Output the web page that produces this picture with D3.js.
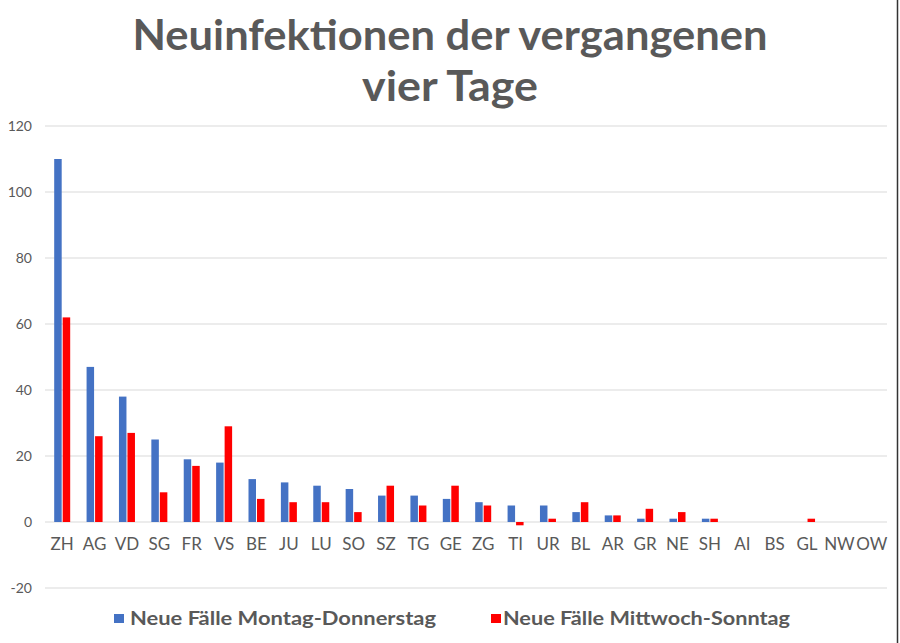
<!DOCTYPE html>
<html><head><meta charset="utf-8">
<script src="https://cdn.jsdelivr.net/npm/d3@7"></script>
<style>body{margin:0;background:#fff}svg{display:block}text{font-family:Lato,"Open Sans",sans-serif}</style>
</head><body>
<script>
const categories = ["ZH","AG","VD","SG","FR","VS","BE","JU","LU","SO","SZ","TG","GE","ZG","TI","UR","BL","AR","GR","NE","SH","AI","BS","GL","NW","OW"];
const seriesNames = ["Neue Fälle Montag-Donnerstag","Neue Fälle Mittwoch-Sonntag"];
const montagDonnerstag = [110,47,38,25,19,18,13,12,11,10,8,8,7,6,5,5,3,2,1,1,1,0,0,0,0,0];
const mittwochSonntag  = [62,26,27,9,17,29,7,6,6,3,11,5,11,5,-1,1,6,2,4,3,1,0,0,1,0,0];
const yTicks = [-20,0,20,40,60,80,100,120];
const colors = ["#4472C4","#FF0000"];
const titleLines = ["Neuinfektionen der vergangenen","vier Tage"];

const W=900,H=643;
const svg=d3.select("body").append("svg").attr("width",W).attr("height",H);
svg.append("rect").attr("width",W).attr("height",H).attr("fill","#fff");

const x=d3.scaleBand().domain(categories).range([46,888]).paddingInner(0).paddingOuter(0);
const y=d3.scaleLinear().domain([-20,120]).range([588,126]);

// grid
svg.append("g").selectAll("line").data(yTicks).join("line")
  .attr("x1",45).attr("x2",887).attr("y1",d=>y(d)).attr("y2",d=>y(d))
  .attr("stroke","#d9d9d9").attr("stroke-width",1);

// y labels
svg.append("g").selectAll("text").data(yTicks).join("text")
  .attr("x",32).attr("y",d=>y(d)).attr("dy","0.35em").attr("text-anchor","end")
  .attr("font-size",14).attr("fill","#595959").text(d=>d);

const bw=7.5;
const data=categories.map((c,i)=>({c,v:[montagDonnerstag[i],mittwochSonntag[i]]}));
[0,1].forEach(s=>{
  svg.append("g").selectAll("rect").data(data).join("rect")
    .attr("x",d=>x(d.c)+x.bandwidth()/2+(s===0?-bw-0.5:0.5))
    .attr("width",bw)
    .attr("y",d=>y(Math.max(0,d.v[s])))
    .attr("height",d=>Math.abs(y(d.v[s])-y(0)))
    .attr("fill",colors[s]);
});

// x labels
svg.append("g").selectAll("text").data(categories).join("text")
  .attr("x",d=>x(d)+x.bandwidth()/2).attr("y",550).attr("text-anchor","middle")
  .attr("font-size",17).attr("fill","#595959").text(d=>d);

// title
const titleLens=[635,176];
titleLines.forEach((l,i)=>{
  svg.append("text").attr("x",450).attr("y",50+i*51).attr("text-anchor","middle")
    .attr("font-size",42).attr("font-weight","bold").attr("fill","#595959")
    .attr("textLength",titleLens[i]).attr("lengthAdjust","spacingAndGlyphs").text(l);
});

// legend
const leg=[{x:114,tx:130,len:306},{x:491,tx:503,len:287}];
seriesNames.forEach((n,i)=>{
  svg.append("rect").attr("x",leg[i].x).attr("y",614).attr("width",10).attr("height",9).attr("fill",colors[i]);
  svg.append("text").attr("x",leg[i].tx).attr("y",625).attr("font-size",18).attr("font-weight","bold")
    .attr("fill","#595959").attr("textLength",leg[i].len).attr("lengthAdjust","spacingAndGlyphs").text(n);
});
// right frame line
svg.append("line").attr("x1",897.5).attr("x2",897.5).attr("y1",0).attr("y2",H).attr("stroke","#333").attr("stroke-width",1.5);
</script>
</body></html>
